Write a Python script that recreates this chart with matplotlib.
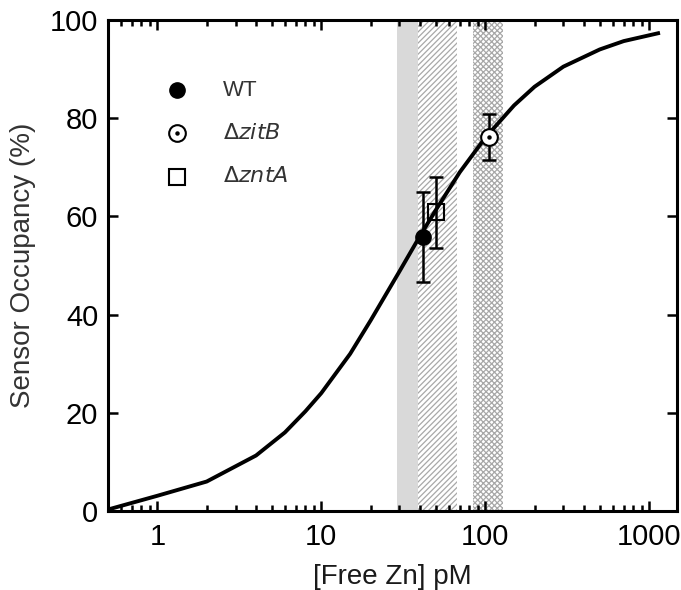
"""Sensor occupancy versus free Zn, with strain estimates."""

import matplotlib

matplotlib.use("Agg")
import matplotlib.pyplot as plt

plt.rcParams["font.family"] = ["Liberation Sans", "DejaVu Sans"]
plt.rcParams["hatch.linewidth"] = 0.9

# binding curve
curve_zn = [0.5, 1, 2, 4, 6, 8, 10, 15, 20, 30, 40, 50, 70, 100, 150, 200, 300, 500, 700, 1135]
curve_occ = [0.3, 3.1, 6.0, 11.3, 16.0, 20.3, 24.0, 32.0, 38.8, 48.8, 56.0, 61.3, 69.0, 76.0,
             82.6, 86.4, 90.5, 94.0, 95.7, 97.3]

# strain measurements
strains = ["WT", "zitB", "zntA"]
strain_zn = [42, 106, 50]
strain_occ = [55.8, 76.2, 60.8]
strain_err = [9.2, 4.7, 7.3]

# shaded ranges (pM)
grey_band = (29, 39)
hatch_band = (39, 67)
cross_band = (84, 129)

fig = plt.figure(figsize=(6.81, 5.90), dpi=100)
ax = fig.add_axes([0.1586, 0.1339, 0.8355, 0.8322])

ax.axvspan(*grey_band, facecolor="#d9d9d9", edgecolor="none", zorder=0)
ax.axvspan(*hatch_band, facecolor="white", edgecolor="#a8a8a8", hatch="//////", linewidth=0, zorder=0)
ax.axvspan(*cross_band, facecolor="white", edgecolor="#a8a8a8", hatch="xxxxxx", linewidth=0, zorder=0)

ax.plot(curve_zn, curve_occ, color="black", linewidth=2.8, zorder=2)

ax.errorbar(strain_zn, strain_occ, yerr=strain_err, fmt="none", ecolor="black",
            elinewidth=1.8, capsize=5, capthick=1.8, zorder=3)

styles = {
    "WT": dict(marker="o", markersize=11, markerfacecolor="black", markeredgecolor="black"),
    "zitB": dict(marker="o", markersize=12, markerfacecolor="white", markeredgecolor="black",
                 markeredgewidth=1.5),
    "zntA": dict(marker="s", markersize=11, markerfacecolor="none", markeredgecolor="black",
                 markeredgewidth=1.5),
}
for name, zn, occ in zip(strains, strain_zn, strain_occ):
    ax.plot([zn], [occ], linestyle="none", zorder=4, **styles[name])
    if name == "zitB":
        ax.plot([zn], [occ], linestyle="none", marker="o", markersize=2.2, color="black", zorder=5)

ax.set_xscale("log")
ax.set_xlim(0.5, 1480)
ax.set_ylim(0, 100)
ax.set_xticks([1, 10, 100, 1000])
ax.set_xticklabels(["1", "10", "100", "1000"])
ax.set_yticks([0, 20, 40, 60, 80, 100])

for side in ax.spines.values():
    side.set_linewidth(2.2)
ax.tick_params(which="major", direction="in", length=7, width=1.8, labelsize=21,
               top=True, right=True)
ax.tick_params(axis="x", which="major", pad=9)
ax.tick_params(axis="y", which="major", pad=7)
ax.tick_params(which="minor", direction="in", length=4.5, width=1.8, top=True, right=False)
ax.tick_params(axis="y", which="minor", left=False, right=False)

ax.set_xlabel("[Free Zn] pM", fontsize=20, color="#1a1a1a", labelpad=9)
ax.set_ylabel("Sensor Occupancy (%)", fontsize=20, color="#333333", labelpad=10)

# legend drawn by hand to keep the layout of the original
legend_rows = [("WT", "WT"), ("zitB", r"$\Delta\mathit{zitB}$"), ("zntA", r"$\Delta\mathit{zntA}$")]
for row, (key, label) in enumerate(legend_rows):
    y = 0.857 - row * 0.088
    ax.plot([0.122], [y], transform=ax.transAxes, linestyle="none", clip_on=False, zorder=5,
            **styles[key])
    if key == "zitB":
        ax.plot([0.122], [y], transform=ax.transAxes, linestyle="none", marker="o",
                markersize=2.2, color="black", zorder=6)
    ax.text(0.202, y, label, transform=ax.transAxes, fontsize=16, color="#333333",
            va="center", ha="left")

fig.savefig("out.png", dpi=100)
